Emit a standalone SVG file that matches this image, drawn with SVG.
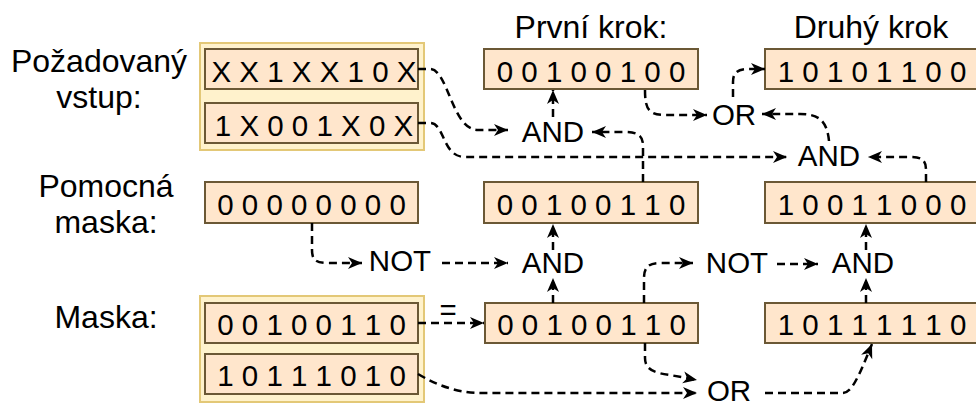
<svg xmlns="http://www.w3.org/2000/svg" width="976" height="403" viewBox="0 0 976 403">
<style>
text{font-family:"Liberation Sans",Arial,sans-serif;fill:#000}
.lbl{font-size:32px;text-anchor:middle}
.bits{font-size:29.5px;text-anchor:middle}
.op{font-size:29.5px;text-anchor:middle}
.grp{fill:#fff2cc;stroke:#e3c877;stroke-width:2}
.box{fill:#ffe6cc;stroke:#6b5835;stroke-width:2}
.edge{fill:none;stroke:#000;stroke-width:2.5;stroke-dasharray:8 5;marker-end:url(#arr)}
</style>
<defs>
<marker id="arr" markerUnits="userSpaceOnUse" markerWidth="16" markerHeight="14" viewBox="0 0 16 14" refX="15" refY="7" orient="auto">
<path d="M1,1 L15,7 L1,13 L5,7 Z" fill="#000"/>
</marker>
</defs>
<rect width="976" height="403" fill="#fff"/>

<g id="label-pozadovany">
<text class="lbl" x="99" y="72">Požadovaný</text>
<text class="lbl" x="99" y="108">vstup:</text>
</g>
<g id="label-pomocna">
<text class="lbl" x="106" y="197">Pomocná</text>
<text class="lbl" x="106" y="233">maska:</text>
</g>
<g id="label-maska"><text class="lbl" x="106" y="328">Maska:</text></g>
<g id="label-prvni"><text class="lbl" x="591" y="38">První krok:</text></g>
<g id="label-druhy"><text class="lbl" x="871" y="38">Druhý krok</text></g>

<g id="group-vstup">
<rect class="grp" x="200" y="43" width="224" height="107"/>
</g>
<g id="vstup1">
<rect class="box" x="205" y="49" width="213" height="40"/>
<text class="bits" x="314" y="82">X X 1 X X 1 0 X</text>
</g>
<g id="vstup2">
<rect class="box" x="205" y="103" width="213" height="40"/>
<text class="bits" x="314" y="136">1 X 0 0 1 X 0 X</text>
</g>
<g id="pomocna">
<rect class="box" x="205" y="182" width="213" height="41"/>
<text class="bits" x="311.5" y="215">0 0 0 0 0 0 0 0</text>
</g>
<g id="group-maska">
<rect class="grp" x="200" y="296" width="224" height="106"/>
</g>
<g id="maska1">
<rect class="box" x="205" y="303" width="213" height="40"/>
<text class="bits" x="311.5" y="335">0 0 1 0 0 1 1 0</text>
</g>
<g id="maska2">
<rect class="box" x="205" y="354" width="213" height="40"/>
<text class="bits" x="311.5" y="386">1 0 1 1 1 0 1 0</text>
</g>

<g id="prvni-vysledek">
<rect class="box" x="484" y="49" width="214" height="40"/>
<text class="bits" x="591" y="82">0 0 1 0 0 1 0 0</text>
</g>
<g id="prvni-mezi">
<rect class="box" x="484" y="182" width="214" height="41"/>
<text class="bits" x="591" y="215">0 0 1 0 0 1 1 0</text>
</g>
<g id="prvni-maska">
<rect class="box" x="485" y="303" width="213" height="40"/>
<text class="bits" x="591.5" y="335">0 0 1 0 0 1 1 0</text>
</g>
<g id="druhy-vysledek">
<rect class="box" x="765" y="49" width="214" height="40"/>
<text class="bits" x="872" y="82">1 0 1 0 1 1 0 0</text>
</g>
<g id="druhy-mezi">
<rect class="box" x="765" y="182" width="214" height="41"/>
<text class="bits" x="872" y="215">1 0 0 1 1 0 0 0</text>
</g>
<g id="druhy-maska">
<rect class="box" x="765" y="303" width="214" height="40"/>
<text class="bits" x="872" y="335">1 0 1 1 1 1 1 0</text>
</g>

<g id="op-and1"><text class="op" x="553" y="142">AND</text></g>
<g id="op-or1"><text class="op" x="734" y="125">OR</text></g>
<g id="op-and2"><text class="op" x="829" y="166">AND</text></g>
<g id="op-not1"><text class="op" x="400" y="271">NOT</text></g>
<g id="op-and3"><text class="op" x="553" y="273">AND</text></g>
<g id="op-not2"><text class="op" x="737" y="273">NOT</text></g>
<g id="op-and4"><text class="op" x="863" y="273">AND</text></g>
<g id="op-or2"><text class="op" x="729" y="401">OR</text></g>

<g id="connectors">
<path class="edge" d="M418,69 L430,69 C448,69 452,130 478,130 L508,130"/>
<path class="edge" d="M418,123 L430,123 C445,123 442,157 465,157 L787,157"/>
<path class="edge" d="M645,90 C645,108 648,115 665,115 L707,115"/>
<path class="edge" d="M733,97 L733,82 C733,72 738,69 750,69 L765,69"/>
<path class="edge" d="M829,141 C827,120 818,114 800,114 L762,114"/>
<path class="edge" d="M926,182 L926,170 C926,160 922,157 910,157 L868,157"/>
<path class="edge" d="M643,182 L643,145 C643,136 638,132 625,132 L592,132"/>
<path class="edge" d="M553,117 L553,90"/>
<path class="edge" d="M553,250 L553,224"/>
<path class="edge" d="M553,303 L553,278"/>
<path class="edge" d="M312,223 L312,250 C312,260 316,263 328,263 L362,263"/>
<path class="edge" d="M442,263 L508,263"/>
<path class="edge" d="M644,303 L644,278 C644,268 648,263 660,263 L693,263"/>
<path class="edge" d="M777,264 L818,264"/>
<path class="edge" d="M866,250 L866,224"/>
<path class="edge" d="M866,303 L866,278"/>
<path class="edge" d="M418,323 L484,323"/>
<text class="op" x="448" y="320">=</text>
<path class="edge" d="M645,343 L645,358 C645,370 655,373 670,375 L697,380"/>
<path class="edge" d="M418,374 Q450,393 480,393 L697,393"/>
<path class="edge" d="M765,393 L842,393 C852,393 858,378 872,344"/>
</g>
</svg>
